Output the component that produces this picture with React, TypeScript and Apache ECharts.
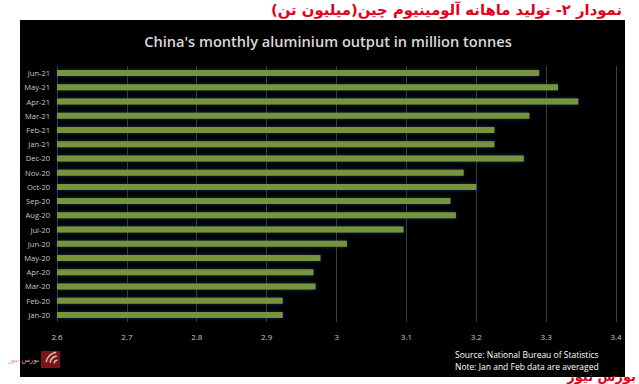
import React, { useEffect, useRef } from "react";
import * as echarts from "echarts";

const categories = [
  "Jan-20", "Feb-20", "Mar-20", "Apr-20", "May-20", "Jun-20", "Jul-20", "Aug-20", "Sep-20",
  "Oct-20", "Nov-20", "Dec-20", "Jan-21", "Feb-21", "Mar-21", "Apr-21", "May-21", "Jun-21",
];
const output = [
  2.923, 2.923, 2.970, 2.967, 2.977, 3.015, 3.096, 3.171, 3.163,
  3.200, 3.182, 3.268, 3.226, 3.226, 3.276, 3.346, 3.317, 3.290,
];
const title = "China's monthly aluminium output in million tonnes";
const persianTitle = "نمودار ۲- تولید ماهانه آلومینیوم چین(میلیون تن)";
const sourceLines = ["Source: National Bureau of Statistics", "Note: Jan and Feb data are averaged"];
const brand = "بورس نیوز";

export default function App() {
  const ref = useRef<HTMLDivElement>(null);
  useEffect(() => {
    if (!ref.current) return;
    const chart = echarts.init(ref.current, null, { renderer: "svg" });
    chart.setOption({
      animation: false,
      backgroundColor: "#ffffff",
      grid: { left: 57, right: 23, top: 66, bottom: 62, containLabel: false },
      graphic: [
        { type: "rect", z: -10, shape: { x: 20, y: 20, width: 605, height: 357 }, style: { fill: "#000000" } },
        {
          type: "text", x: 622, y: 9,
          style: { text: persianTitle, fill: "#e3001b", font: "bold 14.8px 'DejaVu Sans'", align: "right", verticalAlign: "middle" },
        },
        {
          type: "text", x: 328, y: 41,
          style: { text: title, fill: "#d9d9d9", font: "600 14.6px 'Open Sans'", align: "center", verticalAlign: "middle" },
        },
        {
          type: "text", x: 455, y: 354,
          style: { text: sourceLines[0], fill: "#ffffff", font: "8.5px 'Open Sans'", align: "left", verticalAlign: "middle" },
        },
        {
          type: "text", x: 455, y: 366,
          style: { text: sourceLines[1], fill: "#ffffff", font: "8.5px 'Open Sans'", align: "left", verticalAlign: "middle" },
        },
        {
          type: "text", x: 636, y: 376,
          style: { text: brand, fill: "#e3001b", font: "bold 13px 'DejaVu Sans'", align: "right", verticalAlign: "middle" },
        },
        { type: "rect", shape: { x: 41, y: 351, width: 19, height: 17 }, style: { fill: "#7a1616" } },
        { type: "arc", shape: { cx: 58, cy: 364, r: 12, startAngle: Math.PI * 1.05, endAngle: Math.PI * 1.45 }, style: { stroke: "#d9c0c0", lineWidth: 1.5, fill: "none" } },
        { type: "arc", shape: { cx: 58, cy: 364, r: 8, startAngle: Math.PI * 1.05, endAngle: Math.PI * 1.45 }, style: { stroke: "#d9c0c0", lineWidth: 1.5, fill: "none" } },
        { type: "arc", shape: { cx: 58, cy: 364, r: 4, startAngle: Math.PI * 1.05, endAngle: Math.PI * 1.45 }, style: { stroke: "#d9c0c0", lineWidth: 1.5, fill: "none" } },
        {
          type: "text", x: 39, y: 360,
          style: { text: "بورس نیوز", fill: "#e8a0a0", font: "7px 'DejaVu Sans'", align: "right", verticalAlign: "middle" },
        },
      ],
      xAxis: {
        type: "value",
        min: 2.6,
        max: 3.4,
        interval: 0.1,
        axisLine: { show: false },
        axisTick: { show: false },
        axisLabel: { color: "#c8c8c8", fontSize: 8, fontFamily: "Open Sans", margin: 10 },
        splitLine: { show: true, lineStyle: { color: "#3c3c3c", width: 1 } },
      },
      yAxis: {
        type: "category",
        data: categories,
        axisLine: { show: false },
        axisTick: { show: false },
        axisLabel: { color: "#c8c8c8", fontSize: 7.5, fontFamily: "Open Sans", margin: 7 },
        splitLine: { show: false },
      },
      series: [
        {
          type: "bar",
          data: output,
          barWidth: 6,
          itemStyle: {
            color: "#77933c",
            borderWidth: 0,
            shadowColor: "rgba(25,50,95,0.95)",
            shadowBlur: 4,
          },
        },
      ],
    });
    return () => chart.dispose();
  }, []);
  return <div ref={ref} style={{ position: "fixed", left: 0, top: 0, width: 639, height: 384 }} />;
}
